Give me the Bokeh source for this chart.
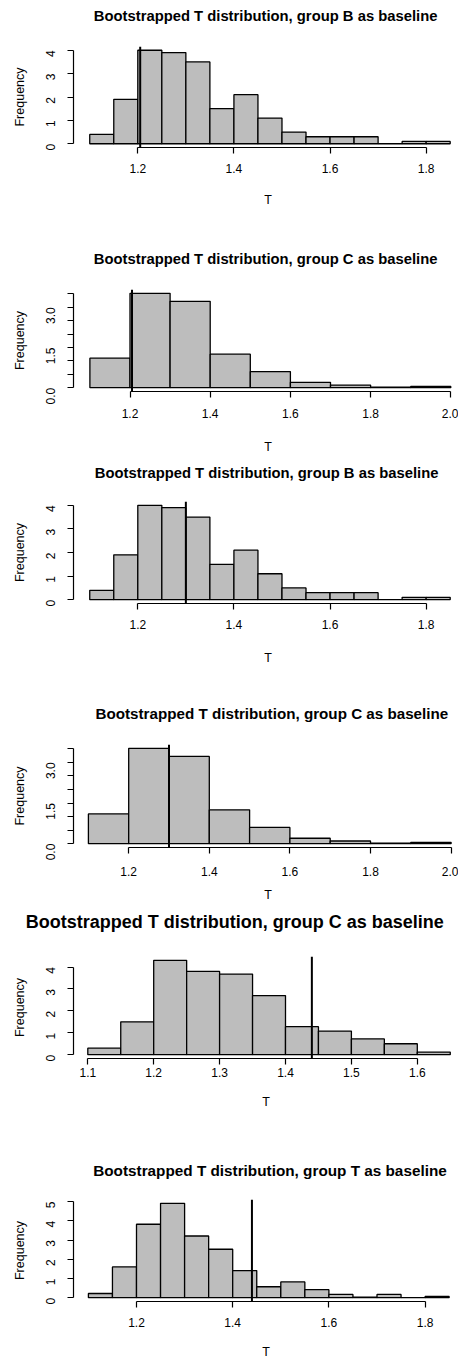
from bokeh.plotting import figure
from bokeh.models import Range1d, FixedTicker, Span, Title
from bokeh.layouts import column
from bokeh.embed import file_html
from bokeh.resources import INLINE

# ---- data: bootstrapped T histograms (density scale) ----
titles = [
    "Bootstrapped T distribution, group B as baseline",
    "Bootstrapped T distribution, group C as baseline",
    "Bootstrapped T distribution, group B as baseline",
    "Bootstrapped T distribution, group C as baseline",
    "Bootstrapped T distribution, group C as baseline",
    "Bootstrapped T distribution, group T as baseline",
]

edges_b = [1.10, 1.15, 1.20, 1.25, 1.30, 1.35, 1.40, 1.45, 1.50, 1.55,
           1.60, 1.65, 1.70, 1.75, 1.80, 1.85]
dens_b = [0.4, 1.9, 4.0, 3.9, 3.5, 1.5, 2.1, 1.1, 0.5, 0.3, 0.3, 0.3, 0.0, 0.1, 0.1]

edges_c = [1.1, 1.2, 1.3, 1.4, 1.5, 1.6, 1.7, 1.8, 1.9, 2.0]
dens_c = [1.1, 3.52, 3.22, 1.25, 0.6, 0.2, 0.1, 0.02, 0.05]

edges_c2 = [1.10, 1.15, 1.20, 1.25, 1.30, 1.35, 1.40, 1.45, 1.50, 1.55, 1.60, 1.65]
dens_c2 = [0.3, 1.5, 4.31, 3.8, 3.68, 2.7, 1.28, 1.08, 0.72, 0.5, 0.12]

edges_t = [1.10, 1.15, 1.20, 1.25, 1.30, 1.35, 1.40, 1.45, 1.50, 1.55,
           1.60, 1.65, 1.70, 1.75, 1.80, 1.85]
dens_t = [0.22, 1.6, 3.82, 4.91, 3.21, 2.52, 1.41, 0.57, 0.82, 0.42, 0.17, 0.03,
          0.17, 0.01, 0.07]

observed_t = [1.205, 1.205, 1.30, 1.30, 1.44, 1.44]

xticks_a = [1.2, 1.4, 1.6, 1.8]
xticks_b = [1.2, 1.4, 1.6, 1.8, 2.0]
xticks_c = [1.1, 1.2, 1.3, 1.4, 1.5, 1.6]

yticks_int4 = [0, 1, 2, 3, 4]
yticks_half = [0.0, 0.5, 1.0, 1.5, 2.0, 2.5, 3.0, 3.5]
yticks_int5 = [0, 1, 2, 3, 4, 5]
ylabels_half = ["0.0", "", "", "1.5", "", "", "3.0", ""]

panels = [
    (titles[0], edges_b, dens_b, observed_t[0], xticks_a, yticks_int4, None),
    (titles[1], edges_c, dens_c, observed_t[1], xticks_b, yticks_half, ylabels_half),
    (titles[2], edges_b, dens_b, observed_t[2], xticks_a, yticks_int4, None),
    (titles[3], edges_c, dens_c, observed_t[3], xticks_b, yticks_half, ylabels_half),
    (titles[4], edges_c2, dens_c2, observed_t[4], xticks_c, yticks_int4, None),
    (titles[5], edges_t, dens_t, observed_t[5], xticks_a, yticks_int5, None),
]

# ---- page geometry for each panel ----
# top: page y of the figure, left: frame left edge, xs/ys: px per unit,
# ax/apx: an x value and its page pixel, ftop: page y of the frame top,
# tfs: title font px, tx/ty: title left edge and vertical centre (page px),
# xls/als: tick-label and axis-title gaps below the x axis
geometry = [
    dict(top=0,    left=69, xs=480.6, ax=1.2, apx=133.3, ftop=46,   ys=23.35,
         tfs=14.8, tx=93.3, ty=15.0,   xls=10, als=17),
    dict(top=230,  left=69, xs=401.0, ax=1.2, apx=125.5, ftop=289,  ys=26.9,
         tfs=14.8, tx=93.3, ty=258.0,  xls=11, als=19),
    dict(top=455,  left=69, xs=480.6, ax=1.2, apx=133.3, ftop=500,  ys=23.5,
         tfs=14.8, tx=94.3, ty=471.0,  xls=10, als=19),
    dict(top=690,  left=69, xs=403.0, ax=1.2, apx=124.2, ftop=743,  ys=27.1,
         tfs=15.2, tx=95.0, ty=711.0,  xls=13, als=9),
    dict(top=905,  left=73, xs=659.0, ax=1.1, apx=87.3,  ftop=955,  ys=21.9,
         tfs=18.0, tx=29.3, ty=920.0,  xls=3,  als=15),
    dict(top=1135, left=73, xs=481.0, ax=1.2, apx=136.0, ftop=1198, ys=19.2,
         tfs=15.3, tx=96.7, ty=1168.3, xls=10, als=15),
]
PAGE_W, PAGE_H = 458, 1363
FONT = "Liberation Sans"
BAR_FILL = "#bdbdbd"
TITLE_HMARGIN = 4  # Title adds its own small inset to a left-aligned offset

figs = []
for i, ((title, edges, dens, obs, xt, yt, ylab), g) in enumerate(zip(panels, geometry)):
    next_top = geometry[i + 1]["top"] if i + 1 < len(geometry) else PAGE_H
    frame_w = PAGE_W - g["left"]
    x0 = g["ax"] - (g["apx"] - g["left"]) / g["xs"]
    x1 = x0 + frame_w / g["xs"]
    ymax = max(dens)
    y0, y1 = -0.04 * ymax, 1.04 * ymax
    frame_h = int(round((y1 - y0) * g["ys"]))
    b_top = g["ftop"] - g["top"]
    b_bot = next_top - g["ftop"] - frame_h

    p = figure(frame_width=frame_w, frame_height=frame_h,
               min_border_left=g["left"], min_border_right=0,
               min_border_top=b_top, min_border_bottom=b_bot,
               x_range=Range1d(x0, x1), y_range=Range1d(y0, y1),
               output_backend="svg", toolbar_location=None,
               background_fill_color="white", border_fill_color="white")
    p.outline_line_color = None
    p.grid.visible = False
    p.title.text = ""

    # blank spacer next to the frame pushes the main title upward
    gap = (g["ftop"] - g["ty"]) - 0.58 * g["tfs"] - 3
    p.add_layout(Title(text=" ", text_font_size="1px", standoff=max(gap, 0)),
                 "above")
    p.add_layout(Title(text=title, text_font=FONT, text_font_style="bold",
                       text_font_size=f"{g['tfs']}px", text_color="black",
                       align="left",
                       offset=g["tx"] - g["left"] - TITLE_HMARGIN, standoff=0),
                 "above")

    p.quad(left=edges[:-1], right=edges[1:], bottom=0, top=dens,
           fill_color=BAR_FILL, line_color="black", line_width=1.3)

    p.add_layout(Span(location=obs, dimension="height",
                      line_color="black", line_width=2))

    xa = p.xaxis[0]
    xa.ticker = FixedTicker(ticks=xt)
    xa.bounds = (xt[0], xt[-1])
    xa.major_label_overrides = {v: f"{v:.1f}" for v in xt}
    xa.axis_label = "T"

    ya = p.yaxis[0]
    ya.ticker = FixedTicker(ticks=yt)
    ya.bounds = (yt[0], yt[-1])
    labels = ylab if ylab else [str(int(v)) for v in yt]
    ya.major_label_overrides = {v: s for v, s in zip(yt, labels)}
    ya.major_label_orientation = 3.14159265 / 2
    ya.axis_label = "Frequency"

    for ax in (xa, ya):
        ax.axis_line_color = "black"
        ax.axis_line_width = 1.2
        ax.major_tick_line_color = "black"
        ax.major_tick_line_width = 1.2
        ax.major_tick_out = 6
        ax.major_tick_in = 0
        ax.minor_tick_out = 0
        ax.minor_tick_in = 0
        ax.major_label_text_font = FONT
        ax.major_label_text_font_size = "12px"
        ax.major_label_text_color = "black"
        ax.axis_label_text_font = FONT
        ax.axis_label_text_font_size = "12.5px"
        ax.axis_label_text_font_style = "normal"
        ax.axis_label_text_color = "black"
    xa.major_label_standoff = g["xls"]
    xa.axis_label_standoff = g["als"]
    ya.major_label_standoff = 17
    ya.axis_label_standoff = 12
    figs.append(p)

layout = column(*figs, spacing=0)
open("out.html", "w").write(file_html(layout, INLINE))
